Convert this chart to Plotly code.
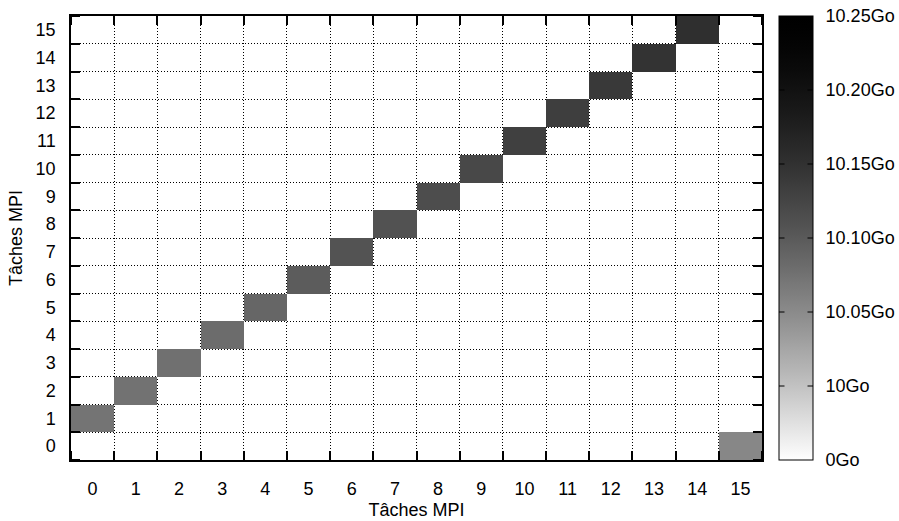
import plotly.graph_objects as go

# --- data -------------------------------------------------------------
ranks = list(range(16))
tick_labels = [str(r) for r in ranks]
# each MPI task i sends to task dest[i]; volume in Go
senders = list(range(16))
dest = [1, 2, 3, 4, 5, 6, 7, 8, 9, 10, 11, 12, 13, 14, 15, 0]
volumes_go = [10.073, 10.075, 10.077, 10.081, 10.087, 10.098, 10.107, 10.109,
              10.115, 10.121, 10.131, 10.134, 10.140, 10.147, 10.153, 10.054]
cb_tickvals_go = [0, 10, 10.05, 10.10, 10.15, 10.20, 10.25]
cb_ticktext = ["0Go", "10Go", "10.05Go", "10.10Go", "10.15Go", "10.20Go", "10.25Go"]


# colour axis of the original: 0..10 Go on the first sixth, then 0.05 Go per sixth
def cb_pos(v):
    if v <= 10:
        return v / 10.0 / 6.0
    return 1 / 6.0 + (v - 10.0) / 0.05 / 6.0


z = [[None] * 16 for _ in range(16)]
for s, d, v in zip(senders, dest, volumes_go):
    z[d][s] = cb_pos(v)

# gray palette (white -> black) with gamma 1.5
colorscale = []
n = 40
for k in range(n + 1):
    p = k / n
    g = round(255 * (1 - p) ** 1.5)
    colorscale.append([p, f"rgb({g},{g},{g})"])

FONT = "Liberation Sans, Arial, Helvetica, sans-serif"
FS = 18
PLOT_W = 899 - 71 - 137
CB_X = 1 + 17 / PLOT_W
CB_T = 34

fig = go.Figure(go.Heatmap(
    x=ranks, y=ranks, z=z,
    zmin=0, zmax=1,
    colorscale=colorscale,
    hoverongaps=False,
    colorbar=dict(
        x=CB_X, xanchor="left", xpad=0, y=0.5, yanchor="middle",
        len=1, lenmode="fraction", ypad=0,
        thickness=CB_T, thicknessmode="pixels",
        outlinewidth=1, outlinecolor="black",
        tickmode="array", tickvals=[cb_pos(v) for v in cb_tickvals_go],
        ticktext=cb_ticktext, ticks="outside", ticklen=9,
        tickcolor="rgba(0,0,0,0)",
        tickfont=dict(family=FONT, size=FS, color="black"),
    ),
))

# inward colorbar ticks on both edges of the bar (annotation arrows sit above the bar)
for v in cb_tickvals_go[1:-1]:
    yp = cb_pos(v)
    for x_edge, dx in ((CB_X, 7), (CB_X + CB_T / PLOT_W, -7)):
        fig.add_annotation(xref="paper", yref="paper", x=x_edge, y=yp,
                           ax=dx, ay=0, axref="pixel", ayref="pixel",
                           text="", showarrow=True, arrowhead=0,
                           arrowwidth=1, arrowcolor="black", standoff=0,
                           startstandoff=0)

axis_common = dict(
    tickmode="array", tickvals=ranks, ticktext=tick_labels,
    ticks="", showgrid=False, zeroline=False,
    showline=True, linecolor="black", linewidth=1.5, mirror="ticks",
    range=[-0.5, 15.5],
    tickfont=dict(family=FONT, size=FS, color="black"),
    minor=dict(tickmode="linear", tick0=0.5, dtick=1, ticks="inside",
               ticklen=9, tickcolor="black", tickwidth=1.5,
               showgrid=True, gridcolor="black", griddash="1px,2px",
               gridwidth=1),
)

fig.update_layout(
    width=899, height=521,
    margin=dict(l=71, r=137, t=16, b=61, autoexpand=False),
    paper_bgcolor="white", plot_bgcolor="white",
    font=dict(family=FONT, size=FS, color="black"),
    xaxis=dict(**axis_common,
               title=dict(text="Tâches MPI", standoff=5,
                          font=dict(family=FONT, size=FS))),
    yaxis=dict(**axis_common,
               title=dict(text="Tâches MPI", standoff=8,
                          font=dict(family=FONT, size=FS))),
    showlegend=False,
)
fig.update_xaxes(ticklabelstandoff=12, automargin=False)
fig.update_yaxes(ticklabelstandoff=10, automargin=False)

fig.write_html("out.html", config={"displayModeBar": False},
               post_script="document.body.style.margin='0';")
